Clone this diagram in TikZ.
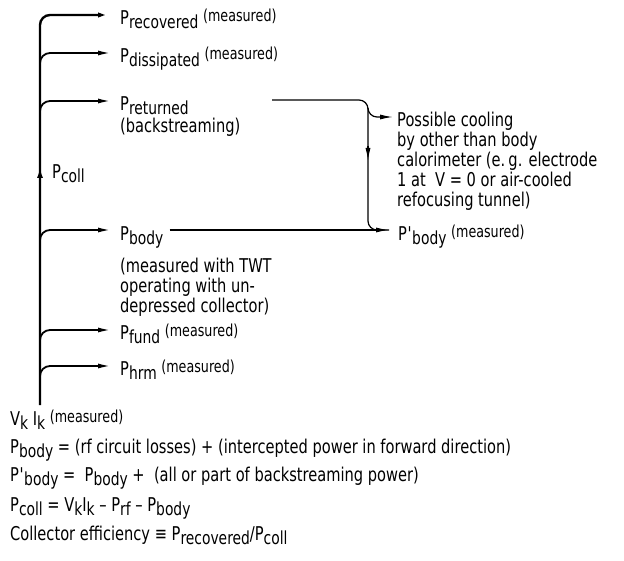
\documentclass[tikz,border=0pt]{standalone}
\usepackage{fontspec}
\setmainfont{DejaVu Sans}[FakeStretch=0.77]
\usetikzlibrary{arrows.meta,calc}
\newcommand{\Pwr}[1]{P\raisebox{-4pt}{\fontsize{18}{18}\selectfont #1}}
\newcommand{\Ppr}[1]{P\kern0.5pt\textquotesingle\kern-0.5pt\raisebox{-4pt}{\fontsize{18}{18}\selectfont #1}}
\newcommand{\Vsub}[2]{#1\raisebox{-4pt}{\fontsize{18}{18}\selectfont #2}}
\newcommand{\msd}{\ \raisebox{3pt}{\fontsize{16.5}{16.5}\selectfont (measured)}}

\begin{document}
\begin{tikzpicture}[x=1pt,y=-1pt,>={Latex[length=13pt,width=5pt]},
    trunk/.style={line width=2.4pt},
    tap/.style={line width=1.8pt,rounded corners=10pt,->},
    feed/.style={line width=1.2pt,rounded corners=9pt},
    lbl/.style={inner sep=0pt,font=\fontsize{19}{20}\selectfont,align=left}]
    \useasboundingbox (0,0) rectangle (624,561);
    % source and arrow tips
    \coordinate (src) at (40,405);
    \coordinate (recTip) at (111,15);
    \coordinate (disTip) at (111,53);
    \coordinate (retTip) at (111,101);
    \coordinate (bodyTip) at (111,230);
    \coordinate (fundTip) at (111,330);
    \coordinate (hrmTip) at (111,366);
    % left labels
    \node[lbl,anchor=base west] (rec) at (120,25) {\Pwr{recovered}\msd};
    \node[lbl,anchor=base west] (dis) at (120,63) {\Pwr{dissipated}\msd};
    \node[lbl,anchor=base west] (ret) at (120,111) {\Pwr{returned}};
    \node[lbl,anchor=base west] (retNote) at (120,133) {(backstreaming)};
    \node[lbl,anchor=base west] (body) at (120,241) {\Pwr{body}};
    \node[lbl,anchor=north west] (bodyNote) at (120,258)
      {(measured with TWT\\operating with un-\\depressed collector)};
    \node[lbl,anchor=base west] (fund) at (120,340) {\Pwr{fund}\msd};
    \node[lbl,anchor=base west] (hrm) at (120,376) {\Pwr{hrm}\msd};
    \node[lbl,anchor=base west] (coll) at (52,179) {\Pwr{coll}};
    \node[lbl,anchor=base west] (vki) at (10,425) {\Vsub{V}{k}\ \Vsub{I}{k}\msd};
    % trunk and taps
    \draw[trunk,->,rounded corners=10pt] (src) |- (recTip);
    \draw[trunk,-{Latex[length=11pt,width=6pt]}] (40,180) -- (40,167);
    \foreach \t in {disTip,retTip,bodyTip,fundTip,hrmTip}
      \draw[tap] ($(src |- \t)+(0,14)$) |- (\t);
    % right side
    \coordinate (retStart) at (272,100);
    \coordinate (fork) at (368,100);
    \coordinate (coolTip) at (393,117);
    \coordinate (primeTip) at (389,230);
    \coordinate (bodyStart) at ($(body.east |- primeTip)+(6,0)$);
    \node[lbl,anchor=north west] (cool) at (397,112)
      {Possible cooling\\by other than body\\calorimeter (e.\,g. electrode\\1 at \ V = 0 or air-cooled\\refocusing tunnel)};
    \node[lbl,anchor=base west] (prime) at (398,241) {\Ppr{body}\msd};
    \draw[feed] (retStart) -| ($(fork |- primeTip)$) -- (primeTip);
    \draw[feed,->] ($(fork)+(0,8)$) |- (coolTip);
    \draw[feed,->] (368,146) -- (368,161);
    \draw[feed,->] (bodyStart) -- (primeTip);
    % definitions
    \node[lbl,anchor=base west] (eqA) at (10,453)
      {\Pwr{body} = (rf circuit losses) + (intercepted power in forward direction)};
    \node[lbl,anchor=base west] (eqB) at (10,481)
      {\Ppr{body} = \ \Pwr{body} + \ (all or part of backstreaming power)};
    \node[lbl,anchor=base west] (eqC) at (10,511)
      {\Pwr{coll} = \Vsub{V}{k}\Vsub{I}{k} -- \Pwr{rf} -- \Pwr{body}};
    \node[lbl,anchor=base west] (eqD) at (10,540)
      {Collector efficiency ≡ \Pwr{recovered}/\Pwr{coll}};
\end{tikzpicture}
\end{document}
